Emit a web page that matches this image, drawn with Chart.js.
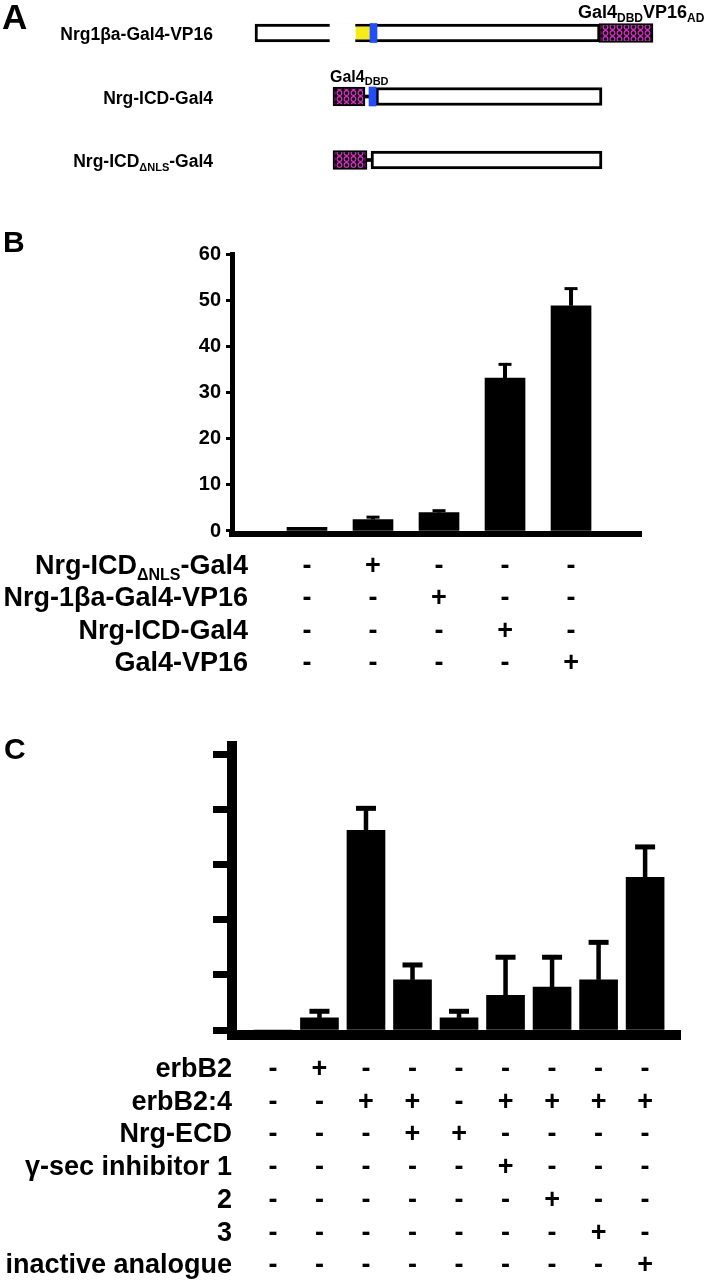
<!DOCTYPE html>
<html>
<head>
<meta charset="utf-8">
<script src="https://cdn.jsdelivr.net/npm/chart.js@4.4.1/dist/chart.umd.min.js"></script>
<style>
  html, body { margin: 0; padding: 0; background: #fff; }
  #wrap { position: relative; width: 704px; height: 1280px; overflow: hidden; }
  canvas { position: absolute; left: 0; }
</style>
</head>
<body>
<div id="wrap">
  <canvas id="chartA" width="704" height="180" style="top:0px"></canvas>
  <canvas id="chartB" width="704" height="520" style="top:180px"></canvas>
  <canvas id="chartC" width="704" height="580" style="top:700px"></canvas>
</div>
<script>
const FONT = '"Liberation Sans", Arial, Helvetica, sans-serif';

// --- Panel A: constructs (schematic positions, arbitrary units) ---
const constructs = ['Nrg1βa-Gal4-VP16', 'Nrg-ICD-Gal4', 'Nrg-ICD_{ΔNLS}-Gal4'];
const proteinSeg = [[0, 345], [121, 347], [116, 347]];
const gal4Seg = [[344, 398], [78, 110], [78, 112]];
const linkerSeg = [null, [110, 115], [112, 117]];
const insertSeg = [[75, 100], null, null];
const yellowSeg = [[101, 115], null, null];
const nlsSeg = [[115, 122], [114, 121], null];
const annotA = ['Gal4_{DBD}VP16_{AD}', 'Gal4_{DBD}', null];

// --- Panel B ---
const rowsB = ['Nrg-ICD_{ΔNLS}-Gal4', 'Nrg-1βa-Gal4-VP16', 'Nrg-ICD-Gal4', 'Gal4-VP16'];
const tableB = [
    ['-', '+', '-', '-', '-'],
    ['-', '-', '+', '-', '-'],
    ['-', '-', '-', '+', '-'],
    ['-', '-', '-', '-', '+']
];
const valuesB = [0.8, 2.5, 4.0, 33.1, 48.8];
const errorsB = [0, 0.5, 0.4, 3.0, 3.7];

// --- Panel C ---
const rowsC = ['erbB2', 'erbB2:4', 'Nrg-ECD', 'γ-sec inhibitor 1', '2', '3', 'inactive analogue'];
const tableC = [
    ['-', '+', '-', '-', '-', '-', '-', '-', '-'],
    ['-', '-', '+', '+', '-', '+', '+', '+', '+'],
    ['-', '-', '-', '+', '+', '-', '-', '-', '-'],
    ['-', '-', '-', '-', '-', '+', '-', '-', '-'],
    ['-', '-', '-', '-', '-', '-', '+', '-', '-'],
    ['-', '-', '-', '-', '-', '-', '-', '+', '-'],
    ['-', '-', '-', '-', '-', '-', '-', '-', '+']
];
const valuesC = [0, 0.22, 3.62, 0.91, 0.22, 0.63, 0.78, 0.91, 2.77];
const errorsC = [0, 0.12, 0.40, 0.27, 0.12, 0.69, 0.54, 0.68, 0.55];

// --- helpers ---
// 'Nrg-ICD_{ΔNLS}-Gal4' -> partes normais e subscritas
function parseRich(s) {
    const parts = [];
    const re = /_\{([^}]*)\}/g;
    let last = 0, m;
    while ((m = re.exec(s))) {
        if (m.index > last) parts.push({ t: s.slice(last, m.index) });
        parts.push({ t: m[1], sub: true });
        last = re.lastIndex;
    }
    if (last < s.length) parts.push({ t: s.slice(last) });
    return parts;
}

function drawRich(ctx, s, x, y, size, subSize, align) {
    const parts = parseRich(s);
    const fontOf = p => `bold ${p.sub ? subSize : size}px ${FONT}`;
    let w = 0;
    parts.forEach(p => { ctx.font = fontOf(p); p.w = ctx.measureText(p.t).width; w += p.w; });
    let cx = align === 'right' ? x - w : x;
    ctx.textAlign = 'left';
    ctx.textBaseline = 'alphabetic';
    parts.forEach(p => {
        ctx.font = fontOf(p);
        ctx.fillText(p.t, cx, p.sub ? y + size * 0.22 : y);
        cx += p.w;
    });
}

function makeHatch(ctx) {
    const c = document.createElement('canvas');
    c.width = 7; c.height = 6;
    const g = c.getContext('2d');
    g.fillStyle = '#0a0a0a';
    g.fillRect(0, 0, 7, 6);
    g.strokeStyle = '#ea2fd6';
    g.lineWidth = 1.1;
    g.beginPath();
    g.arc(3.5, 3, 2.4, 0, Math.PI * 2);
    g.stroke();
    return ctx.createPattern(c, 'repeat');
}

// --- Panel A chart ---
const canvasA = document.getElementById('chartA');
const hatch = makeHatch(canvasA.getContext('2d'));

function segDataset(label, data, color, thickness, order, border) {
    return {
        label: label,
        data: data,
        backgroundColor: color,
        borderColor: '#000',
        borderWidth: border || 0,
        borderSkipped: false,
        barThickness: thickness,
        grouped: false,
        clip: false,
        order: order
    };
}

const labelsPluginA = {
    id: 'labelsA',
    afterDraw(chart) {
        const ctx = chart.ctx;
        const xs = chart.scales.x, ys = chart.scales.y;
        ctx.save();
        ctx.fillStyle = '#000';
        ctx.font = `bold 35px ${FONT}`;
        ctx.fillText('A', 2, 29);
        constructs.forEach((name, i) => {
            const y = ys.getPixelForValue(i);
            drawRich(ctx, name, 213, y + 7, 17.5, 11, 'right');
            if (annotA[i]) {
                const x0 = xs.getPixelForValue(gal4Seg[i][0]);
                if (i === 0) drawRich(ctx, annotA[i], x0 - 21, y - 15, 18, 12, 'left');
                else drawRich(ctx, annotA[i], x0 - 3, y - 15, 16, 11, 'left');
            }
        });
        ctx.restore();
    }
};

new Chart(canvasA, {
    type: 'bar',
    data: {
        labels: constructs,
        datasets: [
            segDataset('NLS', nlsSeg, '#1f4dff', 19, 0),
            segDataset('domain', yellowSeg, '#f4ec14', 12, 1),
            segDataset('insert', insertSeg, '#ffffff', 19, 2),
            segDataset('linker', linkerSeg, '#000000', 3, 3),
            segDataset('Gal4', gal4Seg, hatch, 19, 4, 2),
            segDataset('protein', proteinSeg, '#ffffff', 18, 5, 3)
        ]
    },
    options: {
        indexAxis: 'y',
        responsive: false,
        animation: false,
        layout: { padding: { left: 255, right: 49, top: 33, bottom: 20 } },
        scales: {
            x: { type: 'linear', min: 0, max: 400, display: false },
            y: { type: 'category', offset: false, display: false }
        },
        plugins: { legend: { display: false }, tooltip: { enabled: false } }
    },
    plugins: [labelsPluginA]
});

// --- Panels B and C: bar charts with +/- table ---
function makeAssayChart(id, p) {
    const tablePlugin = {
        id: 'table_' + id,
        afterDatasetsDraw(chart) {
            const ctx = chart.ctx;
            const xs = chart.scales.x, ys = chart.scales.y;
            ctx.save();
            ctx.fillStyle = '#000';
            // barras de erro (apenas para cima)
            p.values.forEach((v, i) => {
                if (!p.errors[i]) return;
                const x = xs.getPixelForValue(i + 1);
                const yTop = ys.getPixelForValue(v + p.errors[i]);
                const yBar = ys.getPixelForValue(v);
                ctx.fillRect(x - p.stem / 2, yTop, p.stem, yBar - yTop);
                ctx.fillRect(x - p.cap / 2, yTop - p.capH / 2, p.cap, p.capH);
            });
            ctx.font = `bold 30px ${FONT}`;
            ctx.textAlign = 'left';
            ctx.fillText(p.letter, p.letterPos[0], p.letterPos[1]);
            const zero = ys.getPixelForValue(0);
            p.rows.forEach((name, r) => {
                const yc = zero + p.rowStart + r * p.rowGap;
                drawRich(ctx, name, p.labelRight, yc + 10, 27, 16, 'right');
                ctx.font = `bold 27px ${FONT}`;
                ctx.textAlign = 'center';
                p.table[r].forEach((s, i) => {
                    ctx.fillText(s, xs.getPixelForValue(i + 1), yc + 10);
                });
            });
            ctx.restore();
        }
    };

    return new Chart(document.getElementById(id), {
        type: 'bar',
        data: {
            datasets: [{
                data: p.values.map((v, i) => ({ x: i + 1, y: v })),
                backgroundColor: '#000',
                borderWidth: 0,
                barThickness: p.barWidth
            }]
        },
        options: {
            responsive: false,
            animation: false,
            layout: { padding: p.padding },
            scales: {
                x: {
                    type: 'linear', min: p.xMin, max: p.xMax, offset: false,
                    grid: { display: false },
                    ticks: { display: false },
                    border: { display: true, color: '#000', width: p.xAxisWidth },
                    afterFit(s) { s.height = 0; }
                },
                y: {
                    type: 'linear', min: p.yMin, max: p.yMax,
                    ticks: {
                        display: p.showTicks, stepSize: p.step, includeBounds: false,
                        color: '#000', padding: 5, font: { family: FONT, size: 20, weight: 'bold' }
                    },
                    grid: {
                        drawOnChartArea: false, drawTicks: true, color: '#000',
                        tickLength: p.tickLength, tickWidth: p.tickWidth, tickColor: '#000'
                    },
                    border: { display: true, color: '#000', width: p.yAxisWidth },
                    afterFit(s) { s.width = p.yAxisBox; }
                }
            },
            plugins: { legend: { display: false }, tooltip: { enabled: false } }
        },
        plugins: [tablePlugin]
    });
}

makeAssayChart('chartB', {
    values: valuesB, errors: errorsB, rows: rowsB, table: tableB,
    letter: 'B', letterPos: [3, 72],
    padding: { left: 192, right: 63, top: 74, bottom: 166 },
    xMin: -0.136, xMax: 6.06, yMin: -0.65, yMax: 60, step: 10, showTicks: true,
    barWidth: 40, stem: 4, cap: 13, capH: 3,
    xAxisWidth: 6, yAxisWidth: 5, tickLength: 6, tickWidth: 3, yAxisBox: 40,
    rowStart: 33, rowGap: 32.5, labelRight: 248
});

makeAssayChart('chartC', {
    values: valuesC, errors: errorsC, rows: rowsC, table: tableC,
    letter: 'C', letterPos: [4, 59],
    padding: { left: 212, right: 24, top: 46, bottom: 245 },
    xMin: 0.12, xMax: 9.75, yMin: -0.09, yMax: 5.15, step: 1, showTicks: false,
    barWidth: 38, stem: 4.5, cap: 20, capH: 5,
    xAxisWidth: 10, yAxisWidth: 10, tickLength: 19, tickWidth: 7, yAxisBox: 20,
    rowStart: 37, rowGap: 32.7, labelRight: 232
});
</script>
</body>
</html>
